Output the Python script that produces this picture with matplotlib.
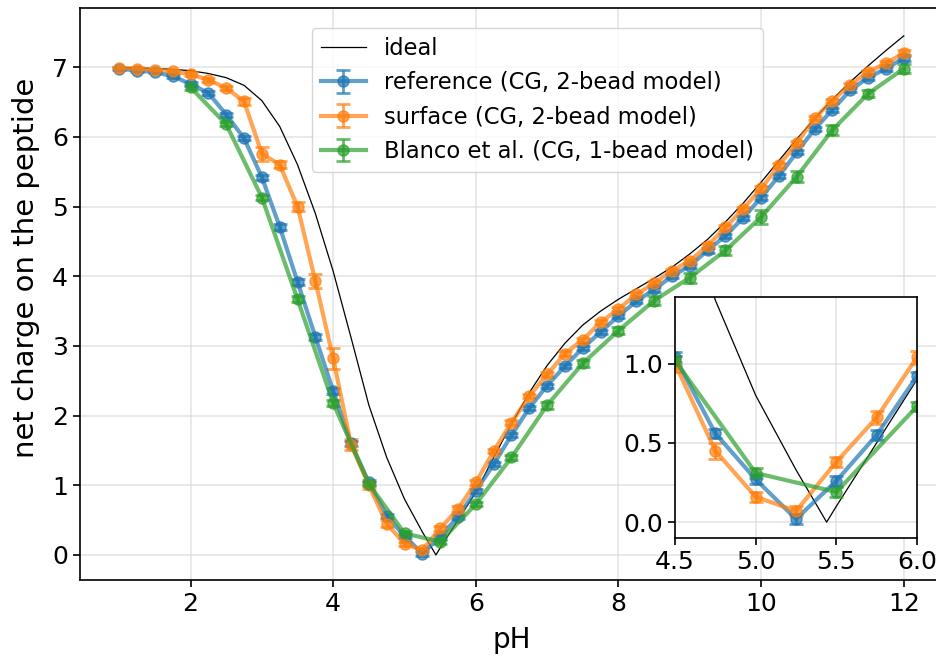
import numpy as np
import matplotlib.pyplot as plt

# pH grid of the simulations
ph = np.arange(1.0, 12.01, 0.25)
ph_blanco = np.arange(2.0, 12.01, 0.5)

# ideal curve
ph_ideal = [1.0, 1.25, 1.5, 1.75, 2.0, 2.25, 2.5, 2.75, 3.0, 3.25, 3.5, 3.75,
            4.0, 4.25, 4.5, 4.75, 5.0, 5.25, 5.44, 5.5, 5.75, 6.0, 6.25, 6.5,
            6.75, 7.0, 7.25, 7.5, 7.75, 8.0, 8.25, 8.5, 8.75, 9.0, 9.25, 9.5,
            9.75, 10.0, 10.25, 10.5, 10.75, 11.0, 11.25, 11.5, 11.75, 12.0]
z_ideal = [6.99, 6.99, 6.98, 6.97, 6.95, 6.91, 6.85, 6.74, 6.52, 6.15, 5.60, 4.90,
           4.07, 3.12, 2.15, 1.40, 0.80, 0.33, 0.0, 0.10, 0.50, 0.90, 1.40, 1.88,
           2.33, 2.72, 3.04, 3.30, 3.50, 3.67, 3.82, 3.97, 4.13, 4.32, 4.53, 4.78,
           5.05, 5.35, 5.66, 5.97, 6.26, 6.54, 6.79, 7.02, 7.24, 7.45]

z_ref = [6.98, 6.95, 6.93, 6.87, 6.76, 6.63, 6.32, 5.98, 5.42, 4.71, 3.92, 3.13,
         2.35, 1.60, 1.04, 0.56, 0.27, 0.02, 0.26, 0.55, 0.92, 1.30, 1.72, 2.11,
         2.43, 2.71, 2.97, 3.20, 3.43, 3.64, 3.81, 4.00, 4.15, 4.37, 4.58, 4.84,
         5.13, 5.44, 5.78, 6.11, 6.39, 6.67, 6.85, 6.98, 7.13]
err_ref = [0.02, 0.02, 0.02, 0.02, 0.03, 0.03, 0.03, 0.03, 0.04, 0.04, 0.04, 0.04,
           0.04, 0.04, 0.03, 0.03, 0.03, 0.03, 0.03, 0.03, 0.03, 0.03, 0.03, 0.03,
           0.03, 0.03, 0.03, 0.03, 0.03, 0.03, 0.03, 0.03, 0.03, 0.03, 0.03, 0.03,
           0.03, 0.03, 0.03, 0.03, 0.03, 0.03, 0.03, 0.03, 0.04]

z_surf = [6.99, 6.98, 6.96, 6.94, 6.90, 6.82, 6.70, 6.51, 5.76, 5.60, 5.00, 3.93,
          2.82, 1.58, 1.00, 0.45, 0.16, 0.07, 0.38, 0.66, 1.04, 1.49, 1.90, 2.28,
          2.59, 2.89, 3.09, 3.34, 3.53, 3.74, 3.90, 4.08, 4.22, 4.44, 4.70, 4.97,
          5.26, 5.59, 5.91, 6.27, 6.52, 6.75, 6.93, 7.06, 7.20]
err_surf = [0.02, 0.02, 0.02, 0.02, 0.03, 0.03, 0.03, 0.05, 0.10, 0.05, 0.06, 0.10,
            0.15, 0.08, 0.05, 0.05, 0.03, 0.03, 0.03, 0.04, 0.04, 0.03, 0.03, 0.03,
            0.03, 0.03, 0.03, 0.03, 0.03, 0.03, 0.03, 0.03, 0.03, 0.03, 0.03, 0.03,
            0.03, 0.03, 0.03, 0.03, 0.03, 0.03, 0.03, 0.03, 0.04]

z_blanco = [6.71, 6.18, 5.13, 3.67, 2.18, 1.02, 0.31, 0.19, 0.73, 1.40, 2.15,
            2.75, 3.22, 3.65, 3.98, 4.37, 4.85, 5.43, 6.10, 6.62, 6.98]
err_blanco = [0.03, 0.03, 0.04, 0.04, 0.04, 0.03, 0.03, 0.03, 0.03, 0.04, 0.05,
              0.05, 0.05, 0.06, 0.07, 0.07, 0.10, 0.08, 0.07, 0.05, 0.06]

labels = ["reference (CG, 2-bead model)",
          "surface (CG, 2-bead model)",
          "Blanco et al. (CG, 1-bead model)"]
colors = ["tab:blue", "tab:orange", "tab:green"]

fig = plt.figure(figsize=(9.37, 6.62), dpi=100)
ax = fig.add_axes([80 / 937, 82 / 662, 863 / 937, 572 / 662])
axin = fig.add_axes([675 / 937, 124 / 662, 242 / 937, 241 / 662])


def draw(a):
    a.plot(ph_ideal, z_ideal, color="k", lw=0.9, label="ideal")
    series = [(ph, z_ref, err_ref), (ph, z_surf, err_surf),
              (ph_blanco, z_blanco, err_blanco)]
    for (x, y, e), lab, c in zip(series, labels, colors):
        a.errorbar(x, y, yerr=e, color=c, marker="o", ms=8, lw=3,
                   capsize=5, elinewidth=2, capthick=2, alpha=0.7,
                   label=lab)
    a.grid(True, color="lightgray", alpha=0.5, lw=1.4)
    a.set_axisbelow(True)
    a.tick_params(labelsize=18, length=5, width=1.2)
    for s in a.spines.values():
        s.set_linewidth(1.2)


draw(ax)
ax.set_xlim(0.45, 12.55)
ax.set_ylim(-0.36, 7.85)
ax.set_xticks([2, 4, 6, 8, 10, 12])
ax.set_yticks(range(8))
ax.set_xlabel("pH", fontsize=20, labelpad=7)
ax.set_ylabel("net charge on the peptide", fontsize=21)
ax.yaxis.set_label_coords(-0.046, 0.545)
ax.legend(loc="upper center", bbox_to_anchor=(0.53, 0.985), fontsize=16.3,
          framealpha=0.8)

draw(axin)
axin.set_xlim(4.5, 6.0)
axin.set_ylim(-0.1, 1.42)
axin.set_xticks([4.5, 5.0, 5.5, 6.0])
axin.set_yticks([0.0, 0.5, 1.0])

fig.savefig("out.png", dpi=100)
